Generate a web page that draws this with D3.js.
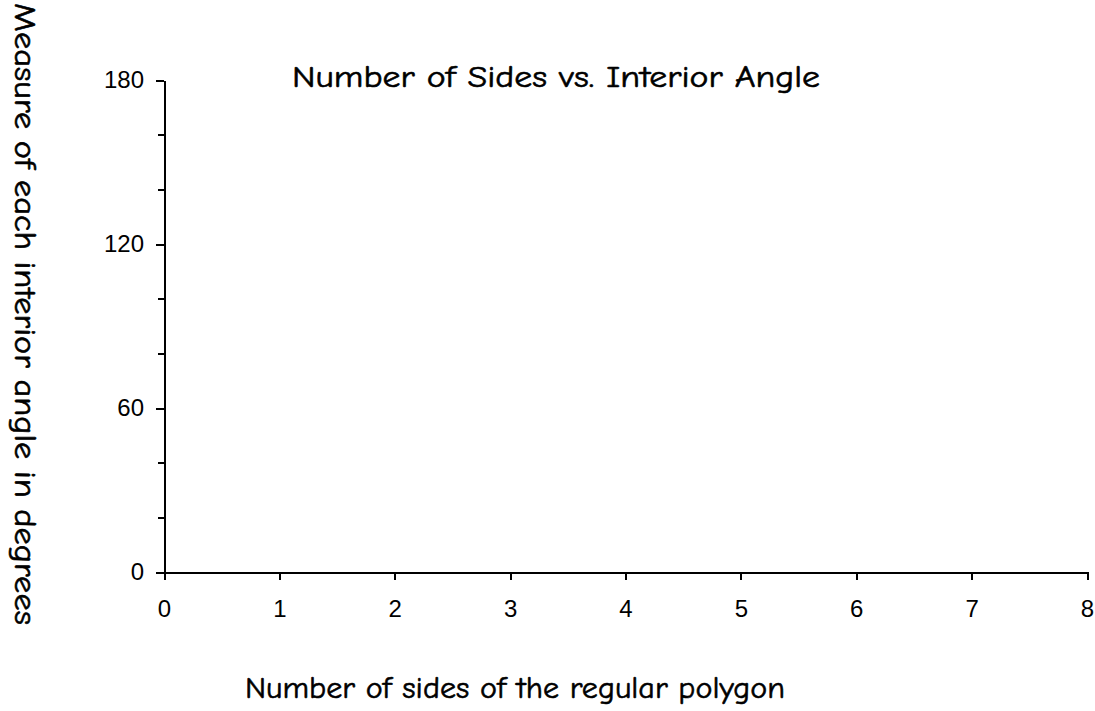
<!DOCTYPE html>
<html>
<head>
<meta charset="utf-8">
<script src="https://cdn.jsdelivr.net/npm/d3@7"></script>
<style>
  html, body { margin: 0; padding: 0; background: #fff; }
  svg { display: block; }
  .axis path, .axis line { stroke: #000; stroke-width: 2px; shape-rendering: crispEdges; }
  .axis text { font-family: Arial, "Liberation Sans", sans-serif; font-size: 24px; fill: #000; }
  .hand { font-family: "Comic Sans MS", "Comic Neue", "Noto Sans", sans-serif; fill: #000; stroke: #000; stroke-width: 0.6px; }
</style>
</head>
<body>
<script>
// Axis domains and tick values
const xDomain = [0, 8];
const yDomain = [0, 180];
const xTicks = [0, 1, 2, 3, 4, 5, 6, 7, 8];
const yMajorTicks = [0, 60, 120, 180];
const yMinorTicks = [0, 20, 40, 60, 80, 100, 120, 140, 160, 180];

// Plotted points (sides, interior angle); none drawn yet
const sides = [];
const angles = [];

const chartTitle = "Number of Sides vs. Interior Angle";
const xTitle = "Number of sides of the regular polygon";
const yTitle = "Measure of each interior angle in degrees";

const W = 1095, H = 711;
const margin = { top: 80, right: 8, bottom: 139, left: 164 };

const svg = d3.select("body").append("svg")
  .attr("width", W).attr("height", H);

const x = d3.scaleLinear().domain(xDomain).range([margin.left, W - margin.right]);
const y = d3.scaleLinear().domain(yDomain).range([H - margin.bottom, margin.top]);

// Minor y ticks (unlabelled)
svg.append("g").attr("class", "axis")
  .attr("transform", `translate(${margin.left},0)`)
  .call(d3.axisLeft(y).tickValues(yMinorTicks).tickSize(6).tickFormat(""))
  .call(g => g.select(".domain").remove());

// Major y ticks with labels
svg.append("g").attr("class", "axis")
  .attr("transform", `translate(${margin.left},0)`)
  .call(d3.axisLeft(y).tickValues(yMajorTicks).tickSize(8).tickSizeOuter(0).tickPadding(12).tickFormat(d3.format("d")));

// x axis
svg.append("g").attr("class", "axis")
  .attr("transform", `translate(0,${H - margin.bottom})`)
  .call(d3.axisBottom(x).tickValues(xTicks).tickSize(8).tickSizeOuter(0).tickPadding(20).tickFormat(d3.format("d")));

// Data points
svg.append("g").selectAll("circle")
  .data(sides.map((s, i) => [s, angles[i]]))
  .join("circle")
  .attr("cx", d => x(d[0])).attr("cy", d => y(d[1]))
  .attr("r", 5).attr("fill", "#000");

// Titles
svg.append("text").attr("class", "hand")
  .attr("x", 556).attr("y", 87)
  .attr("text-anchor", "middle")
  .attr("font-size", 31)
  .attr("textLength", 528).attr("lengthAdjust", "spacingAndGlyphs")
  .text(chartTitle);

svg.append("text").attr("class", "hand")
  .attr("x", 515).attr("y", 698)
  .attr("text-anchor", "middle")
  .attr("font-size", 31)
  .attr("textLength", 540).attr("lengthAdjust", "spacingAndGlyphs")
  .text(xTitle);

svg.append("text").attr("class", "hand")
  .attr("transform", "translate(15,314) rotate(90)")
  .attr("text-anchor", "middle")
  .attr("font-size", 31)
  .attr("textLength", 622).attr("lengthAdjust", "spacingAndGlyphs")
  .text(yTitle);
</script>
</body>
</html>
